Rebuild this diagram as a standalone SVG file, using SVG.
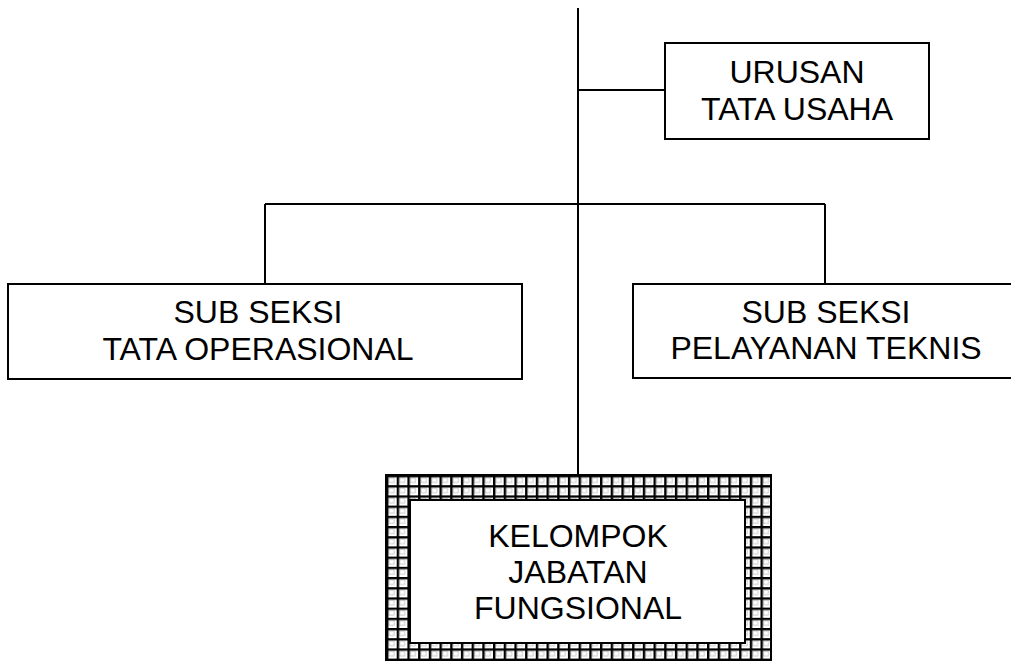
<svg xmlns="http://www.w3.org/2000/svg" width="1011" height="669" viewBox="0 0 1011 669">
<defs>
<style>
.box{fill:#fff;stroke:#000;stroke-width:2}
.ln{fill:none;stroke:#000;stroke-width:2}
.t{font-family:"Liberation Sans",Arial,sans-serif;font-size:32px;fill:#000;text-anchor:middle}
</style>
<pattern id="grid" x="386" y="475" width="10.7" height="10.2" patternUnits="userSpaceOnUse">
<rect width="10.7" height="10.2" fill="#fff"/>
<rect x="3" y="3" width="5" height="4.5" fill="none" stroke="#ccc" stroke-width="1"/>
<path d="M1.2 0V10.2M0 1.2H10.7" stroke="#000" stroke-width="2.4"/>
</pattern>
</defs>
<rect width="1011" height="669" fill="#fff"/>
<g id="connectors">
<path class="ln" d="M578 8V475"/>
<path class="ln" d="M578 90H665"/>
<path class="ln" d="M265 204H825"/>
<path class="ln" d="M265 204V284"/>
<path class="ln" d="M825 204V284"/>
</g>
<g id="urusan">
<rect class="box" x="665" y="43" width="264" height="96"/>
<text class="t" x="797" y="83">URUSAN</text>
<text class="t" x="797" y="120">TATA USAHA</text>
</g>
<g id="tata-operasional">
<rect class="box" x="8" y="284" width="514" height="95"/>
<text class="t" x="258" y="323">SUB SEKSI</text>
<text class="t" x="258" y="360">TATA OPERASIONAL</text>
</g>
<g id="pelayanan-teknis">
<rect class="box" x="633" y="284" width="390" height="94"/>
<text class="t" x="826" y="323">SUB SEKSI</text>
<text class="t" x="826" y="359">PELAYANAN TEKNIS</text>
</g>
<g id="kelompok">
<rect x="386" y="475" width="385" height="185" fill="url(#grid)" stroke="#000" stroke-width="2"/>
<rect class="box" x="410" y="500" width="335" height="143"/>
<text class="t" x="578" y="547">KELOMPOK</text>
<text class="t" x="578" y="583">JABATAN</text>
<text class="t" x="578" y="619">FUNGSIONAL</text>
</g>
</svg>
